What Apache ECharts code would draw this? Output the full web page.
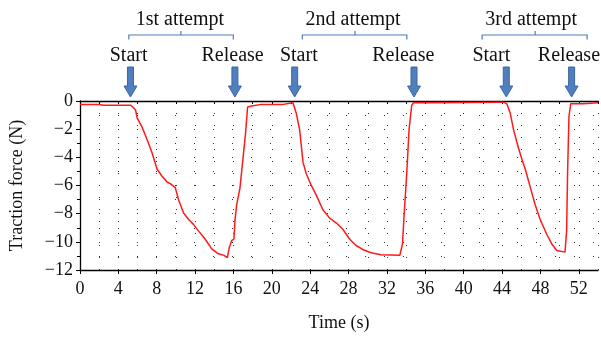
<!DOCTYPE html>
<html>
<head>
<meta charset="utf-8">
<script src="https://cdn.jsdelivr.net/npm/echarts@6/dist/echarts.min.js"></script>
<style>
html,body{margin:0;padding:0;background:#fff;}
#c{width:601px;height:337px;}
</style>
</head>
<body>
<div id="c"></div>
<script>
// ---- data ----
const timeS = [0, 2.0, 2.5, 5.0, 5.3, 5.6, 5.8, 5.95, 6.47, 6.99, 7.51, 8.03, 8.55, 9.07, 9.41, 9.93, 10.28, 10.8, 11.32, 11.83, 12.35, 13.04, 13.73, 14.43, 15.01, 15.36, 15.57, 15.81, 16.05, 16.15, 16.33, 16.67, 17.02, 17.26, 17.47, 17.88, 18.9, 21.2, 21.34, 22.2, 22.55, 22.9, 23.25, 23.59, 24.1, 24.63, 25.32, 26.0, 26.7, 27.4, 28.1, 28.78, 29.47, 30.33, 31.37, 33.34, 33.62, 33.79, 34.07, 34.3, 34.58, 34.76, 35.86, 36.04, 44.16, 44.5, 44.86, 45.2, 45.7, 46.07, 46.41, 46.93, 47.45, 47.97, 48.66, 49.18, 49.7, 50.56, 50.73, 50.83, 50.97, 51.15, 52.46, 54];
const forceN = [-0.25, -0.25, -0.3, -0.3, -0.3, -0.5, -0.66, -1.2, -1.85, -2.74, -3.67, -4.83, -5.34, -5.75, -5.87, -6.15, -7.03, -7.95, -8.41, -8.76, -9.22, -9.8, -10.5, -10.85, -10.96, -11.12, -10.38, -9.92, -9.8, -8.53, -7.37, -6.2, -3.9, -2.28, -0.43, -0.36, -0.24, -0.24, -0.13, -0.13, -0.89, -2.05, -4.36, -5.17, -5.98, -6.68, -7.72, -8.3, -8.65, -9.11, -9.8, -10.26, -10.54, -10.77, -10.91, -10.96, -10.15, -8.07, -5.06, -2.05, -0.31, -0.13, -0.13, -0.08, -0.08, -0.2, -0.89, -2.05, -3.32, -4.13, -4.83, -6.1, -7.37, -8.41, -9.46, -10.15, -10.61, -10.73, -9.22, -5.06, -1.12, -0.2, -0.2, -0.13];

// event annotations (times in s)
const eventLabels = ['Start', 'Release', 'Start', 'Release', 'Start', 'Release'];
const arrowTimes = [5.26, 16.15, 22.38, 34.82, 44.44, 51.25];
const eventLabelTimes = [5.07, 15.91, 22.81, 33.7, 42.88, 50.97];
const attemptNames = ['1st attempt', '2nd attempt', '3rd attempt'];
const attemptStart = [5.09, 23.17, 41.92];
const attemptEnd = [15.98, 34.07, 52.87];
const attemptMid = [10.52, 28.67, 47.45];
const attemptLabelTimes = [10.41, 28.46, 47.03];

const xMin = 0, xMax = 54, xStep = 4;
const yMin = -12, yMax = 0, yStep = 2;

const FONT = '"Liberation Serif", "DejaVu Serif", serif';
const minus = v => (v < 0 ? '\u2212' + Math.abs(v) : String(v));

const chart = echarts.init(document.getElementById('c'), null, {renderer: 'canvas'});
const dotted = {color: '#333', width: 1, type: [1, 18]};

chart.setOption({
  animation: false,
  backgroundColor: '#fff',
  grid: {left: 78, right: 3, top: 101, bottom: 64, containLabel: false},
  xAxis: [{
    type: 'value', min: xMin, max: xMax, interval: xStep, position: 'bottom',
    name: 'Time (s)', nameLocation: 'middle', nameGap: 44,
    nameTextStyle: {fontFamily: FONT, fontSize: 18, color: '#111'},
    axisLine: {onZero: false, lineStyle: {color: '#000', width: 1.3}},
    axisTick: {show: true, inside: false, length: 4, lineStyle: {color: '#000'}},
    axisLabel: {fontFamily: FONT, fontSize: 18, color: '#111', margin: 10, showMaxLabel: false},
    splitLine: {show: false}
  }, {
    type: 'value', min: xMin, max: xMax, interval: xStep / 2, position: 'top',
    axisLine: {onZero: false, lineStyle: {color: '#000', width: 1.3}},
    axisTick: {show: true, inside: true, length: 3, lineStyle: {color: '#000'}},
    axisLabel: {show: false},
    splitLine: {show: true, lineStyle: {color: '#333', width: 1, type: [1, 11]}}
  }],
  yAxis: {
    type: 'value', min: yMin, max: yMax, interval: yStep,
    name: 'Traction force (N)', nameLocation: 'middle', nameGap: 54,
    nameTextStyle: {fontFamily: FONT, fontSize: 18, color: '#111'},
    axisLine: {show: true, onZero: false, lineStyle: {color: '#000', width: 1.3}},
    axisTick: {show: true, length: 4, lineStyle: {color: '#000'}},
    minorTick: {show: true, splitNumber: 2, length: 3, lineStyle: {color: '#000'}},
    axisLabel: {fontFamily: FONT, fontSize: 18, color: '#111', margin: 7, formatter: minus},
    splitLine: {show: true, lineStyle: dotted},
    minorSplitLine: {show: true, lineStyle: dotted}
  },
  series: [{
    type: 'line', xAxisIndex: 0, showSymbol: false, smooth: false,
    data: timeS.map((t, i) => [t, forceN[i]]),
    lineStyle: {color: '#ff1a1a', width: 1.5},
    z: 5
  }]
});

// annotations above the plot, positioned via the x axis scale
const px = t => chart.convertToPixel({xAxisIndex: 0}, t);
const blue = '#4f7fbf';
const g = [];
arrowTimes.forEach(t => {
  const x = px(t);
  g.push({type: 'polygon', shape: {points: [
    [x - 3, 67], [x + 3, 67], [x + 3, 86], [x + 6.5, 86], [x, 97], [x - 6.5, 86], [x - 3, 86]
  ]}, style: {fill: blue, stroke: '#3c67a0', lineWidth: 1}});
});
eventLabels.forEach((lab, i) => {
  g.push({type: 'text', x: px(eventLabelTimes[i]), y: 56, style: {
    text: lab, font: '20px ' + FONT, fill: '#111', align: 'center', verticalAlign: 'middle'}});
});
attemptNames.forEach((lab, i) => {
  const a = px(attemptStart[i]), b = px(attemptEnd[i]), m = px(attemptMid[i]);
  g.push({type: 'polyline', shape: {points: [[a, 39.5], [a, 35], [b, 35], [b, 39.5]]},
    style: {stroke: '#4a7ebb', lineWidth: 1.2, fill: null}});
  g.push({type: 'line', shape: {x1: m, y1: 35, x2: m, y2: 31},
    style: {stroke: '#4a7ebb', lineWidth: 1.2}});
  g.push({type: 'text', x: px(attemptLabelTimes[i]), y: 20, style: {
    text: lab, font: '20px ' + FONT, fill: '#111', align: 'center', verticalAlign: 'middle'}});
});
chart.setOption({graphic: g});
</script>
</body>
</html>
